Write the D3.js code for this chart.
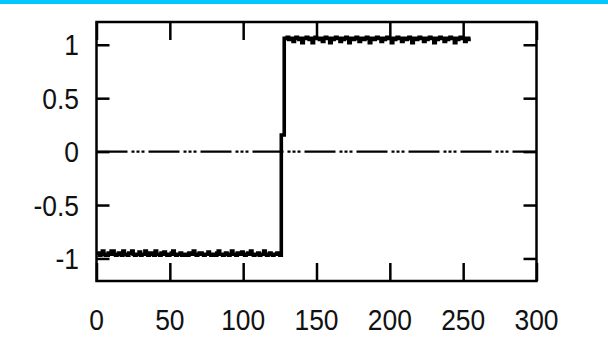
<!DOCTYPE html>
<html>
<head>
<meta charset="utf-8">
<script src="https://cdn.jsdelivr.net/npm/d3@7"></script>
<style>
  html, body { margin: 0; padding: 0; background: #fff; }
  svg { display: block; }
</style>
</head>
<body>
<svg id="chart" width="608" height="364"></svg>
<script>
// ---------- data ----------
const xTicks = [0, 50, 100, 150, 200, 250, 300];
const yTicks = [-1, -0.5, 0, 0.5, 1];
const xTickLabels = ["0", "50", "100", "150", "200", "250", "300"];
const yTickLabels = ["-1", "-0.5", "0", "0.5", "1"];

// samples 0..125 : low plateau
const lowValues = [
  -0.95,-0.95,-0.97,-0.96,-0.93,-0.96,-0.97,-0.97,-0.95,-0.96,
  -0.93,-0.93,-0.96,-0.97,-0.96,-0.95,-0.95,-0.97,-0.93,-0.96,
  -0.96,-0.97,-0.95,-0.95,-0.93,-0.96,-0.97,-0.96,-0.96,-0.94,
  -0.97,-0.96,-0.96,-0.93,-0.96,-0.97,-0.95,-0.95,-0.96,-0.97,
  -0.93,-0.96,-0.96,-0.97,-0.95,-0.96,-0.94,-0.96,-0.97,-0.97,
  -0.96,-0.95,-0.93,-0.96,-0.97,-0.96,-0.96,-0.95,-0.97,-0.96,
  -0.96,-0.97,-0.97,-0.95,-0.96,-0.96,-0.93,-0.96,-0.97,-0.96,
  -0.95,-0.95,-0.96,-0.97,-0.96,-0.96,-0.94,-0.96,-0.97,-0.96,
  -0.96,-0.97,-0.95,-0.93,-0.96,-0.96,-0.97,-0.96,-0.95,-0.96,
  -0.97,-0.96,-0.93,-0.96,-0.96,-0.97,-0.95,-0.96,-0.96,-0.94,
  -0.96,-0.97,-0.96,-0.95,-0.96,-0.93,-0.96,-0.97,-0.96,-0.96,
  -0.95,-0.97,-0.96,-0.96,-0.93,-0.96,-0.97,-0.96,-0.95,-0.96,
  -0.97,-0.96,-0.96,-0.95,-0.96,-0.97
];
// samples 126..127 : transition
const transitionValues = [0.155, 0.155];
// samples 128..255 : high plateau
const highValues = [
  1.06,1.06,1.07,1.05,1.06,1.06,1.03,1.06,1.07,1.06,
  1.05,1.06,1.02,1.06,1.06,1.07,1.06,1.05,1.06,1.02,
  1.06,1.07,1.06,1.06,1.05,1.06,1.03,1.06,1.07,1.06,
  1.06,1.02,1.06,1.05,1.06,1.07,1.06,1.06,1.03,1.06,
  1.05,1.06,1.07,1.06,1.02,1.06,1.06,1.05,1.06,1.07,
  1.06,1.03,1.06,1.06,1.05,1.06,1.07,1.06,1.02,1.06,
  1.06,1.05,1.06,1.07,1.06,1.06,1.03,1.06,1.05,1.06,
  1.07,1.06,1.06,1.02,1.06,1.05,1.06,1.07,1.06,1.06,
  1.03,1.06,1.06,1.05,1.06,1.07,1.06,1.02,1.06,1.06,
  1.05,1.06,1.07,1.06,1.06,1.03,1.06,1.05,1.06,1.07,
  1.06,1.06,1.02,1.06,1.05,1.06,1.07,1.06,1.06,1.03,
  1.06,1.05,1.06,1.07,1.06,1.06,1.02,1.06,1.05,1.06,
  1.07,1.06,1.06,1.03,1.06,1.05,1.06,1.06
];

const signal = lowValues.concat(transitionValues, highValues);
const points = signal.map((v, i) => ({ x: i, y: v }));

// ---------- layout ----------
const svg = d3.select("#chart");
const plotLeft = 96.5, plotRight = 536.5, plotTop = 22, plotBottom = 281;

const x = d3.scaleLinear().domain([0, 300]).range([plotLeft, plotRight]);
const y = d3.scaleLinear().domain([-1.211, 1.213]).range([plotBottom, plotTop]);

svg.append("rect").attr("x", 0).attr("y", 0).attr("width", 608).attr("height", 364).attr("fill", "#fff");

// zero axis line (dash-dot-dot)
svg.append("line")
  .attr("x1", x(0)).attr("x2", x(300))
  .attr("y1", y(0)).attr("y2", y(0))
  .attr("stroke", "#000").attr("stroke-width", 2.2)
  .attr("stroke-dasharray", "31,4,3,2,3,2,3,4");

// data line
const line = d3.line().x(d => x(d.x)).y(d => y(d.y)).curve(d3.curveStepAfter);
svg.append("path")
  .datum(points)
  .attr("d", line)
  .attr("fill", "none")
  .attr("stroke", "#000")
  .attr("stroke-width", 3.6)
  .attr("stroke-linejoin", "miter");

// axes with inward ticks
const fontFam = "'Liberation Sans', Arial, sans-serif";
const xAxisB = d3.axisBottom(x).tickValues(xTicks).tickSize(-18).tickFormat(() => "");
const xAxisT = d3.axisTop(x).tickValues(xTicks).tickSize(-18).tickFormat(() => "");
const yAxisL = d3.axisLeft(y).tickValues(yTicks).tickSize(-13).tickFormat(() => "");
const yAxisR = d3.axisRight(y).tickValues(yTicks).tickSize(-13).tickFormat(() => "");

function styleAxis(g) {
  g.select(".domain").remove();
  g.selectAll(".tick line").attr("stroke", "#000").attr("stroke-width", 2.5);
}
svg.append("g").attr("transform", `translate(0,${plotBottom})`).call(xAxisB).call(styleAxis);
svg.append("g").attr("transform", `translate(0,${plotTop})`).call(xAxisT).call(styleAxis);
svg.append("g").attr("transform", `translate(${plotLeft},0)`).call(yAxisL).call(styleAxis);
svg.append("g").attr("transform", `translate(${plotRight},0)`).call(yAxisR).call(styleAxis);

// border
svg.append("rect")
  .attr("x", plotLeft).attr("y", plotTop)
  .attr("width", plotRight - plotLeft).attr("height", plotBottom - plotTop)
  .attr("fill", "none").attr("stroke", "#000").attr("stroke-width", 2.5);

// tick labels
const sx = 0.88;
svg.append("g").selectAll("text")
  .data(xTicks)
  .join("text")
  .attr("transform", (d) => `translate(${x(d)},330) scale(${sx},1)`)
  .attr("text-anchor", "middle")
  .attr("font-family", fontFam)
  .attr("font-size", 30)
  .attr("fill", "#111")
  .text((d, i) => xTickLabels[i]);

svg.append("g").selectAll("text")
  .data(yTicks)
  .join("text")
  .attr("transform", (d) => `translate(79,${y(d) + 10.5}) scale(${sx},1)`)
  .attr("text-anchor", "end")
  .attr("font-family", fontFam)
  .attr("font-size", 30)
  .attr("fill", "#111")
  .text((d, i) => yTickLabels[i]);

// top cyan band
svg.append("rect").attr("x", 0).attr("y", 0).attr("width", 608).attr("height", 4).attr("fill", "#00c8ff");
</script>
</body>
</html>
